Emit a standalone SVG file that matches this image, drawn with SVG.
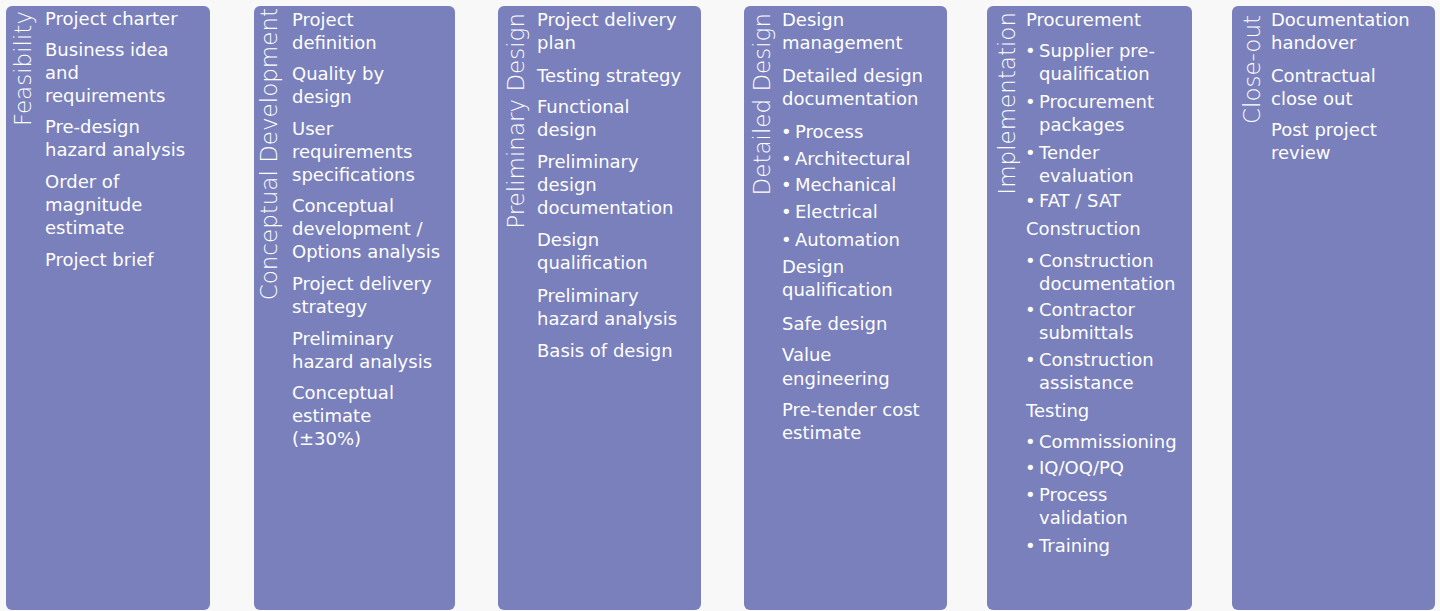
<svg xmlns="http://www.w3.org/2000/svg" width="1440" height="611" viewBox="0 0 1440 611">
<style>
.bg{fill:#f8f8f8}
.box{fill:#7980bc}
.t{font-family:"DejaVu Sans","Liberation Sans",sans-serif;font-size:18px;fill:#ffffff}
.h{font-family:"DejaVu Sans","Liberation Sans",sans-serif;font-size:23px;font-weight:200;fill:#ffffff;text-anchor:end}
</style>
<rect class="bg" x="0" y="0" width="1440" height="611"/>

<g id="feasibility">
<rect class="box" x="6" y="6" width="204" height="604" rx="6"/>
<text class="h" transform="translate(31,11) rotate(-90)">Feasibility</text>
<text class="t" x="45" y="25">Project charter</text>
<text class="t" x="45" y="56">Business idea</text>
<text class="t" x="45" y="79">and</text>
<text class="t" x="45" y="101.5">requirements</text>
<text class="t" x="45" y="133">Pre-design</text>
<text class="t" x="45" y="156">hazard analysis</text>
<text class="t" x="45" y="188">Order of</text>
<text class="t" x="45" y="211">magnitude</text>
<text class="t" x="45" y="234">estimate</text>
<text class="t" x="45" y="266">Project brief</text>
</g>

<g id="conceptual-development">
<rect class="box" x="254" y="6" width="201" height="604" rx="6"/>
<text class="h" transform="translate(277,8) rotate(-90)">Conceptual Development</text>
<text class="t" x="292" y="25.5">Project</text>
<text class="t" x="292" y="48.5">definition</text>
<text class="t" x="292" y="80">Quality by</text>
<text class="t" x="292" y="102.5">design</text>
<text class="t" x="292" y="134.5">User</text>
<text class="t" x="292" y="157.5">requirements</text>
<text class="t" x="292" y="180.5">specifications</text>
<text class="t" x="292" y="212">Conceptual</text>
<text class="t" x="292" y="235">development /</text>
<text class="t" x="292" y="258">Options analysis</text>
<text class="t" x="292" y="290">Project delivery</text>
<text class="t" x="292" y="313">strategy</text>
<text class="t" x="292" y="345">Preliminary</text>
<text class="t" x="292" y="368">hazard analysis</text>
<text class="t" x="292" y="399">Conceptual</text>
<text class="t" x="292" y="422">estimate</text>
<text class="t" x="292" y="445">(±30%)</text>
</g>

<g id="preliminary-design">
<rect class="box" x="498" y="6" width="203" height="604" rx="6"/>
<text class="h" transform="translate(524,13) rotate(-90)">Preliminary Design</text>
<text class="t" x="537" y="25.5">Project delivery</text>
<text class="t" x="537" y="48.5">plan</text>
<text class="t" x="537" y="81.5">Testing strategy</text>
<text class="t" x="537" y="112.5">Functional</text>
<text class="t" x="537" y="135.5">design</text>
<text class="t" x="537" y="167.5">Preliminary</text>
<text class="t" x="537" y="190.5">design</text>
<text class="t" x="537" y="213.5">documentation</text>
<text class="t" x="537" y="245.5">Design</text>
<text class="t" x="537" y="268.5">qualification</text>
<text class="t" x="537" y="301.5">Preliminary</text>
<text class="t" x="537" y="324.5">hazard analysis</text>
<text class="t" x="537" y="356.5">Basis of design</text>
</g>

<g id="detailed-design">
<rect class="box" x="744" y="6" width="203" height="604" rx="6"/>
<text class="h" transform="translate(770,13) rotate(-90)">Detailed Design</text>
<text class="t" x="782" y="25.5">Design</text>
<text class="t" x="782" y="48.5">management</text>
<text class="t" x="782" y="81.5">Detailed design</text>
<text class="t" x="782" y="104.5">documentation</text>
<text class="t" x="781" y="137.5">•</text><text class="t" x="795" y="137.5">Process</text>
<text class="t" x="781" y="164.5">•</text><text class="t" x="795" y="164.5">Architectural</text>
<text class="t" x="781" y="190.5">•</text><text class="t" x="795" y="190.5">Mechanical</text>
<text class="t" x="781" y="217.5">•</text><text class="t" x="795" y="217.5">Electrical</text>
<text class="t" x="781" y="245.5">•</text><text class="t" x="795" y="245.5">Automation</text>
<text class="t" x="782" y="272.5">Design</text>
<text class="t" x="782" y="295.5">qualification</text>
<text class="t" x="782" y="329.5">Safe design</text>
<text class="t" x="782" y="360.5">Value</text>
<text class="t" x="782" y="384.5">engineering</text>
<text class="t" x="782" y="415.5">Pre-tender cost</text>
<text class="t" x="782" y="438.5">estimate</text>
</g>

<g id="implementation">
<rect class="box" x="987" y="6" width="205" height="604" rx="6"/>
<text class="h" transform="translate(1015,12) rotate(-90)">Implementation</text>
<text class="t" x="1026" y="25.5">Procurement</text>
<text class="t" x="1025" y="56.5">•</text><text class="t" x="1039" y="56.5">Supplier pre-</text>
<text class="t" x="1039" y="79.5">qualification</text>
<text class="t" x="1025" y="107.5">•</text><text class="t" x="1039" y="107.5">Procurement</text>
<text class="t" x="1039" y="130.5">packages</text>
<text class="t" x="1025" y="158.5">•</text><text class="t" x="1039" y="158.5">Tender</text>
<text class="t" x="1039" y="181.5">evaluation</text>
<text class="t" x="1025" y="206.5">•</text><text class="t" x="1039" y="206.5">FAT / SAT</text>
<text class="t" x="1026" y="234.5">Construction</text>
<text class="t" x="1025" y="266.5">•</text><text class="t" x="1039" y="266.5">Construction</text>
<text class="t" x="1039" y="289.5">documentation</text>
<text class="t" x="1025" y="316">•</text><text class="t" x="1039" y="316">Contractor</text>
<text class="t" x="1039" y="338.5">submittals</text>
<text class="t" x="1025" y="366">•</text><text class="t" x="1039" y="366">Construction</text>
<text class="t" x="1039" y="389">assistance</text>
<text class="t" x="1026" y="416.5">Testing</text>
<text class="t" x="1025" y="447.5">•</text><text class="t" x="1039" y="447.5">Commissioning</text>
<text class="t" x="1025" y="474">•</text><text class="t" x="1039" y="474">IQ/OQ/PQ</text>
<text class="t" x="1025" y="501">•</text><text class="t" x="1039" y="501">Process</text>
<text class="t" x="1039" y="524">validation</text>
<text class="t" x="1025" y="551.5">•</text><text class="t" x="1039" y="551.5">Training</text>
</g>

<g id="close-out">
<rect class="box" x="1232" y="6" width="203" height="604" rx="6"/>
<text class="h" transform="translate(1260,15) rotate(-90)">Close-out</text>
<text class="t" x="1271" y="25.5">Documentation</text>
<text class="t" x="1271" y="48.5">handover</text>
<text class="t" x="1271" y="81.5">Contractual</text>
<text class="t" x="1271" y="104.5">close out</text>
<text class="t" x="1271" y="135.5">Post project</text>
<text class="t" x="1271" y="158.5">review</text>
</g>

<g id="connectors"></g>
</svg>
